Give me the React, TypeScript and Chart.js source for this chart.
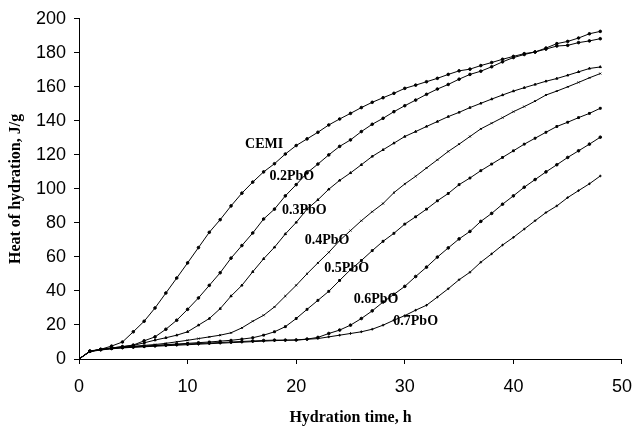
import React, { useEffect, useRef } from "react";
import { Chart, registerables } from "chart.js";

Chart.register(...registerables);

const hours = [0, 1, 2, 3, 4, 5, 6, 7, 8, 9, 10, 11, 12, 13, 14, 15, 16, 17, 18, 19, 20, 21, 22, 23, 24, 25, 26, 27, 28, 29, 30, 31, 32, 33, 34, 35, 36, 37, 38, 39, 40, 41, 42, 43, 44, 45, 46, 47, 48];

const cemi = [0, 4.7, 5.7, 7.6, 10, 16, 22.2, 30, 38.8, 47.6, 56.5, 65.5, 74.5, 81.9, 90, 97.5, 104, 110, 114.8, 120.5, 125.5, 129.4, 133.3, 137.6, 141.1, 144.4, 147.8, 150.9, 153.6, 156.2, 159.1, 161, 163, 165, 167.3, 169.4, 170.4, 172.5, 174.3, 176.2, 177.9, 179.5, 180.5, 182.2, 184, 184.4, 186, 187, 188.3];
const pbo02 = [0, 4.5, 5.6, 6.5, 7.3, 8.2, 10.7, 13, 17.5, 22.8, 29.2, 35.9, 43.3, 50.7, 59.3, 66.7, 74.1, 82.3, 88.1, 95.9, 102.5, 109.4, 114.6, 120, 125, 128.8, 133.7, 138, 141.5, 145.4, 148.9, 152.2, 155.6, 158.7, 161.4, 164.5, 167.3, 169.2, 171.8, 174.7, 177.2, 179, 180.5, 182.8, 185.4, 186.7, 188.7, 191.2, 192.6];
const pbo03 = [0, 4.5, 5.6, 6.5, 7.2, 8, 9.5, 11.1, 12.5, 14, 16, 19.9, 23.8, 29.6, 37, 43.3, 51.3, 58.9, 65.7, 73.5, 80.3, 88.1, 93.6, 99.8, 105, 109.4, 114.2, 119.1, 123, 126.9, 130.8, 133.7, 136.7, 139.6, 142.5, 145, 147.8, 150.3, 152.8, 155.2, 157.5, 159.5, 161.4, 163.3, 164.9, 166.8, 168.8, 170.8, 171.7];
const pbo04 = [0, 4.5, 5.6, 6.3, 7, 7.5, 8, 8.5, 9.2, 10.1, 11, 12, 13, 14, 15.4, 18.3, 22.2, 25.7, 30.6, 37, 43.3, 50.1, 56.5, 62.7, 69.6, 75.5, 81.3, 86.6, 91.4, 97.8, 102.9, 107.4, 112.3, 117.1, 122, 126.3, 130.8, 135.3, 138.6, 141.9, 145.4, 148.4, 151.6, 155.2, 157.5, 160, 162.6, 165.3, 167.8];
const pbo05 = [0, 4.5, 5.5, 6.2, 6.8, 7.2, 7.6, 8, 8.4, 8.8, 9.2, 9.6, 10, 10.5, 11, 11.7, 12.5, 14, 16, 19, 23.8, 29.2, 34.5, 39.8, 46.2, 52.5, 57.9, 63.7, 69.2, 73.9, 79.3, 83.6, 88.1, 93, 97.3, 102.5, 106.4, 110.7, 114.6, 118.5, 122.4, 126.3, 129.8, 133.3, 136.7, 139.2, 141.9, 144.4, 147.4];
const pbo06 = [0, 4.5, 5.5, 6.2, 6.7, 7, 7.4, 7.8, 8.2, 8.5, 8.8, 9.1, 9.4, 9.7, 10, 10.3, 10.6, 10.9, 11.1, 11.1, 11.2, 11.7, 12.7, 15, 17, 19.9, 23.8, 28.3, 33.5, 38, 42.7, 48.5, 54, 59.9, 65.3, 70.6, 75, 80.9, 85.6, 91, 95.9, 101, 105.5, 110, 114.2, 118.5, 122.4, 126.3, 130.4];
const pbo07 = [0, 4.3, 5.3, 6, 6.5, 6.9, 7.2, 7.5, 7.8, 8.1, 8.4, 8.7, 9, 9.3, 9.6, 9.9, 10.2, 10.5, 10.8, 11, 11.1, 11.6, 12, 13, 14, 15, 16, 17.5, 19.9, 22.8, 25.5, 28.7, 31.6, 36.4, 41.3, 46.6, 51, 56.9, 61.8, 67, 71.5, 76.4, 81.3, 86.1, 90, 94.9, 99, 103, 107.6];

const seriesNames = ["CEMI", "0.2PbO", "0.3PbO", "0.4PbO", "0.5PbO", "0.6PbO", "0.7PbO"];
const seriesValues = [cemi, pbo02, pbo03, pbo04, pbo05, pbo06, pbo07];
const pointStyles = ["circle", "circle", "triangle", "crossRot", "rect", "circle", "cross"];

// curve label anchors (data units: hours, J/g)
const labelHours = [17.05, 19.6, 20.75, 22.85, 24.65, 27.35, 31.0];
const labelHeat = [126.0, 107.6, 87.4, 69.9, 53.5, 35.1, 22.2];

const xTicks = [0, 10, 20, 30, 40, 50];
const yTicks = [0, 20, 40, 60, 80, 100, 120, 140, 160, 180, 200];

const curveLabelPlugin = {
  id: "curveLabels",
  afterDatasetsDraw(chart: any) {
    const { ctx, scales } = chart;
    ctx.save();
    ctx.font = 'bold 14px "Liberation Serif"';
    ctx.fillStyle = "#000";
    ctx.textAlign = "center";
    ctx.textBaseline = "middle";
    seriesNames.forEach((name, i) => {
      ctx.fillText(name, scales.x.getPixelForValue(labelHours[i]), scales.y.getPixelForValue(labelHeat[i]));
    });
    ctx.restore();
  },
};

export default function App() {
  const ref = useRef<HTMLCanvasElement>(null);
  useEffect(() => {
    document.body.style.margin = "0";
    const datasets = seriesValues.map((vals, i) => ({
      label: seriesNames[i],
      data: hours.map((h, j) => ({ x: h, y: vals[j] })),
      borderColor: "#000",
      backgroundColor: "#000",
      borderWidth: 1,
      pointStyle: pointStyles[i],
      pointRadius: 1.3,
      pointBorderWidth: 1,
      pointBorderColor: "#000",
      pointBackgroundColor: "#000",
      tension: 0,
      fill: false,
    }));
    const chart = new Chart(ref.current!, {
      type: "line",
      data: { datasets },
      plugins: [curveLabelPlugin],
      options: {
        animation: false,
        responsive: false,
        layout: { padding: { top: 17, right: 12, left: 0, bottom: 0 } },
        plugins: { legend: { display: false }, tooltip: { enabled: false } },
        scales: {
          x: {
            type: "linear",
            min: 0,
            max: 50,
            afterBuildTicks: (s: any) => { s.ticks = xTicks.map((v) => ({ value: v })); },
            afterFit: (s: any) => { s.height = 67; },
            ticks: { color: "#000", padding: 12, font: { family: '"Liberation Sans"', size: 18 } },
            grid: { drawOnChartArea: false, drawTicks: true, tickLength: 5, color: "#000", tickColor: "#000" },
            border: { display: true, color: "#000", width: 1 },
            title: {
              display: true,
              text: "Hydration time, h",
              color: "#000",
              padding: { top: 0, bottom: -1 },
              font: { family: '"Liberation Serif"', weight: "bold", size: 16 },
            },
          },
          y: {
            type: "linear",
            min: 0,
            max: 200,
            afterBuildTicks: (s: any) => { s.ticks = yTicks.map((v) => ({ value: v })); },
            afterFit: (s: any) => { s.width = 79; },
            ticks: { color: "#000", padding: 8, font: { family: '"Liberation Sans"', size: 18 } },
            grid: { drawOnChartArea: false, drawTicks: true, tickLength: 5, color: "#000", tickColor: "#000" },
            border: { display: true, color: "#000", width: 1 },
            title: {
              display: true,
              text: "Heat of hydration, J/g",
              color: "#000",
              padding: { top: 6, bottom: 0 },
              font: { family: '"Liberation Serif"', weight: "bold", size: 16 },
            },
          },
        },
      } as any,
    });
    return () => chart.destroy();
  }, []);
  return (
    <div style={{ position: "fixed", left: 0, top: 0, width: 644, height: 426, background: "#fff" }}>
      <canvas ref={ref} width={644} height={426} />
    </div>
  );
}
